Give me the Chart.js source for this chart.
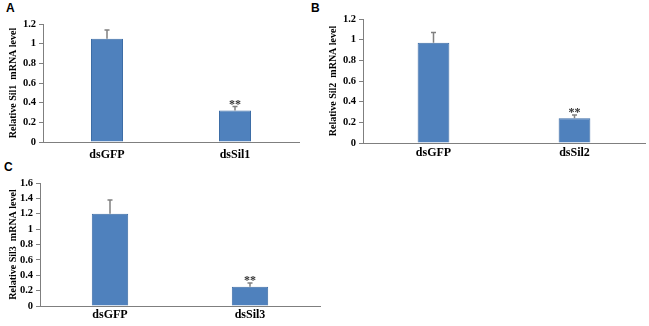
<!DOCTYPE html>
<html><head><meta charset="utf-8">
<script src="https://cdn.jsdelivr.net/npm/chart.js@4/dist/chart.umd.min.js"></script>
<style>
html,body{margin:0;padding:0;background:#fff;width:649px;height:326px;overflow:hidden;position:relative}
canvas{position:absolute}
.lbl{position:absolute;font:bold 12px "Liberation Sans",Arial,sans-serif;color:#000}
</style></head><body>
<div class="lbl" style="left:6px;top:1px">A</div>
<div class="lbl" style="left:311px;top:1px">B</div>
<div class="lbl" style="left:4px;top:160px">C</div>
<canvas id="cA" width="302" height="162" style="left:0;top:0"></canvas>
<canvas id="cB" width="329" height="162" style="left:320px;top:0"></canvas>
<canvas id="cC" width="322" height="166" style="left:0;top:160px"></canvas>
<script>
// ---- data ----
const categoriesA = ['dsGFP', 'dsSil1'];
const valuesA = [1.05, 0.32];
const errorsA = [0.09, 0.04];
const starsA = ['', '**'];

const categoriesB = ['dsGFP', 'dsSil2'];
const valuesB = [0.97, 0.24];
const errorsB = [0.10, 0.03];
const starsB = ['', '**'];

const categoriesC = ['dsGFP', 'dsSil3'];
const valuesC = [1.20, 0.25];
const errorsC = [0.18, 0.05];
const starsC = ['', '**'];

const yTitleA = 'Relative Sil1  mRNA level';
const yTitleB = 'Relative Sil2  mRNA level';
const yTitleC = 'Relative Sil3  mRNA level';
const yMaxAB = 1.2;
const yMaxC = 1.6;
const yStep = 0.2;

// ---- drawing ----
const SERIF = '"Liberation Serif","Times New Roman",serif';
const errPlugin = {
  id: 'errStars',
  afterDatasetsDraw(chart, args, opts) {
    const ctx = chart.ctx;
    const meta = chart.getDatasetMeta(0);
    const ys = chart.scales.y;
    const vals = chart.data.datasets[0].data;
    ctx.save();
    meta.data.forEach((bar, i) => {
      const yTop = ys.getPixelForValue(vals[i] + opts.errors[i]);
      const yBar = ys.getPixelForValue(vals[i]);
      ctx.strokeStyle = '#808080';
      ctx.lineWidth = 1.5;
      ctx.beginPath();
      ctx.moveTo(bar.x, yBar);
      ctx.lineTo(bar.x, yTop);
      ctx.moveTo(bar.x - 2.5, yTop);
      ctx.lineTo(bar.x + 2.5, yTop);
      ctx.stroke();
      if (opts.stars[i]) {
        ctx.fillStyle = '#333';
        ctx.font = 'bold 12px ' + SERIF;
        ctx.textAlign = 'center';
        ctx.textBaseline = 'alphabetic';
        ctx.fillText(opts.stars[i], bar.x, yTop + 1);
      }
    });
    ctx.restore();
  }
};

function makeChart(id, cats, vals, errs, stars, title, yMax, cfg) {
  new Chart(document.getElementById(id), {
    type: 'bar',
    data: {
      labels: cats,
      datasets: [{
        data: vals,
        backgroundColor: '#4F81BD',
        borderColor: '#3D6DA6',
        borderWidth: 1,
        barPercentage: 1,
        categoryPercentage: cfg.cat
      }]
    },
    plugins: [errPlugin],
    options: {
      responsive: false,
      animation: false,
      events: [],
      layout: { padding: { left: 0, right: cfg.right, top: cfg.top, bottom: 0 } },
      plugins: {
        legend: { display: false },
        tooltip: { enabled: false },
        errStars: { errors: errs, stars: stars }
      },
      scales: {
        x: {
          grid: { display: false, drawTicks: false },
          border: { display: true, color: '#7f7f7f', width: 1 },
          ticks: { color: '#000', font: { family: SERIF, size: 12, weight: 'bold' }, padding: cfg.xpad },
          afterFit(s) { s.height = cfg.xh; }
        },
        y: {
          min: 0, max: yMax,
          grid: { display: true, drawOnChartArea: false, tickLength: 4, color: '#808080' },
          border: { display: true, color: '#7f7f7f', width: 1 },
          ticks: {
            stepSize: yStep, autoSkip: false, color: '#000', padding: 3,
            font: { family: SERIF, size: 10.5, weight: 'bold' },
            callback: v => String(Math.round(v * 10) / 10)
          },
          title: {
            display: true, text: title, color: '#000',
            font: { family: SERIF, size: 10, weight: 'bold' },
            padding: { top: 7, bottom: 0 }
          },
          afterFit(s) { s.width = cfg.yw; }
        }
      }
    }
  });
}

makeChart('cA', categoriesA, valuesA, errorsA, starsA, yTitleA, yMaxAB,
  { cat: 0.25, right: 3, top: 24, xh: 20, xpad: 6, yw: 43 });
makeChart('cB', categoriesB, valuesB, errorsB, starsB, yTitleB, yMaxAB,
  { cat: 0.225, right: 4, top: 19, xh: 19, xpad: 3, yw: 43 });
makeChart('cC', categoriesC, valuesC, errorsC, starsC, yTitleC, yMaxC,
  { cat: 0.26, right: 2, top: 23, xh: 20, xpad: 2, yw: 40 });
</script>
</body></html>
